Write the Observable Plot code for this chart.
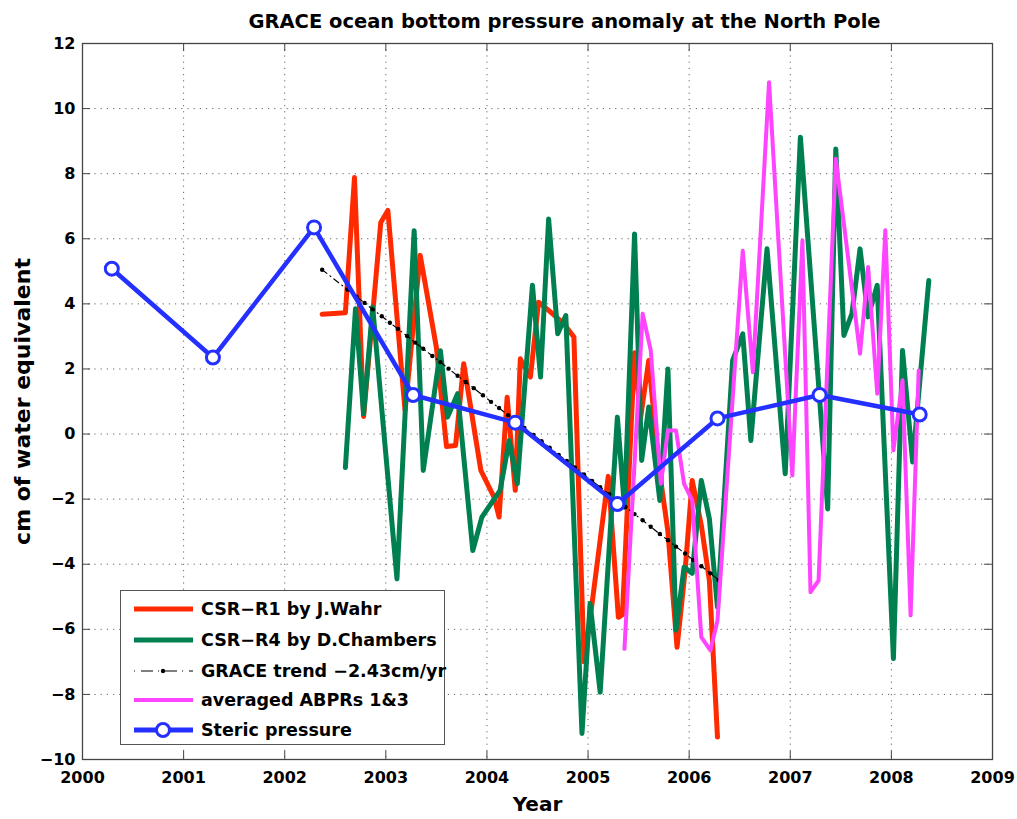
<!DOCTYPE html>
<html><head><meta charset="utf-8">
<script src="https://cdn.jsdelivr.net/npm/d3@7"></script>
<script src="https://cdn.jsdelivr.net/npm/@observablehq/plot@0.6"></script>
<style>
body{margin:0;background:#fff;}
#wrap{position:relative;width:1017px;height:819px;}
#legend{position:absolute;left:120px;top:590px;width:325px;height:155px;border:1px solid #555;background:#fff;box-sizing:border-box;font-family:"DejaVu Sans",sans-serif;font-weight:bold;font-size:17.5px;color:#000;}
.row{position:absolute;left:0;height:30px;width:320px;}
.row svg{position:absolute;left:12px;top:0;}
.row span{position:absolute;left:80px;top:0;line-height:30px;white-space:nowrap;}
</style></head><body><div id="wrap"><div id="legend"></div></div>
<script>
const titleText = "GRACE ocean bottom pressure anomaly at the North Pole";
const xLabel = "Year";
const yLabel = "cm of water equivalent";
const xTicks = [2000, 2001, 2002, 2003, 2004, 2005, 2006, 2007, 2008, 2009];
const yTicks = [-10, -8, -6, -4, -2, 0, 2, 4, 6, 8, 10, 12];

const seriesNames = ["CSR\u2212R1 by J.Wahr", "CSR\u2212R4 by D.Chambers", "GRACE trend \u22122.43cm/yr", "averaged ABPRs 1&3", "Steric pressure"];

const redYears = [2002.37, 2002.60, 2002.69, 2002.78, 2002.95, 2003.02, 2003.19, 2003.34, 2003.50, 2003.60, 2003.69, 2003.77, 2003.94, 2004.07, 2004.12, 2004.20, 2004.28, 2004.33, 2004.43, 2004.51, 2004.61, 2004.76, 2004.86, 2004.96, 2005.04, 2005.20, 2005.30, 2005.34, 2005.46, 2005.52, 2005.60, 2005.70, 2005.79, 2005.88, 2005.96, 2006.03, 2006.12, 2006.20, 2006.28];
const redValues = [3.68, 3.73, 7.88, 0.54, 6.50, 6.87, 0.72, 5.49, 2.66, -0.38, -0.35, 2.16, -1.12, -1.94, -2.55, 1.13, -1.73, 2.31, 1.75, 4.05, 3.80, 3.39, 2.98, -7.0, -5.2, -1.3, -5.63, -5.55, 2.5, 0.5, 2.26, -1.0, -3.0, -6.55, -4.2, -1.43, -2.8, -4.5, -9.31];

const greenYears = [2002.60, 2002.70, 2002.78, 2002.87, 2003.11, 2003.28, 2003.37, 2003.54, 2003.61, 2003.71, 2003.86, 2003.95, 2004.13, 2004.22, 2004.30, 2004.45, 2004.53, 2004.61, 2004.70, 2004.78, 2004.94, 2005.02, 2005.12, 2005.29, 2005.36, 2005.46, 2005.53, 2005.60, 2005.71, 2005.79, 2005.87, 2005.95, 2006.03, 2006.12, 2006.20, 2006.28, 2006.43, 2006.53, 2006.61, 2006.77, 2006.95, 2007.10, 2007.37, 2007.45, 2007.53, 2007.61, 2007.69, 2007.77, 2007.86, 2008.02, 2008.11, 2008.21, 2008.37];
const greenValues = [-1.03, 3.85, 0.62, 3.90, -4.45, 6.25, -1.12, 2.56, 0.52, 1.24, -3.58, -2.55, -1.73, -0.20, -1.53, 4.57, 1.75, 6.61, 3.08, 3.64, -9.20, -5.21, -7.93, 0.52, -2.25, 6.15, -0.81, 0.83, -2.04, 2.00, -6.03, -4.09, -4.28, -1.43, -2.60, -5.32, 2.26, 3.08, -0.20, 5.69, -1.22, 9.12, -2.30, 8.76, 3.03, 3.70, 5.69, 3.60, 4.57, -6.90, 2.57, -0.86, 4.72];

const trendYears = [2002.37, 2002.62, 2002.71, 2002.79, 2002.87, 2002.96, 2003.04, 2003.12, 2003.21, 2003.29, 2003.37, 2003.46, 2003.54, 2003.62, 2003.71, 2003.79, 2003.87, 2003.96, 2004.04, 2004.12, 2004.21, 2004.29, 2004.37, 2004.46, 2004.54, 2004.62, 2004.71, 2004.79, 2004.87, 2004.96, 2005.04, 2005.12, 2005.21, 2005.29, 2005.37, 2005.46, 2005.54, 2005.62, 2005.71, 2005.79, 2005.87, 2005.96, 2006.04, 2006.12, 2006.21, 2006.29];
const trendValues = [5.05, 4.44, 4.22, 4.03, 3.83, 3.62, 3.42, 3.23, 3.01, 2.81, 2.62, 2.40, 2.21, 2.01, 1.79, 1.60, 1.41, 1.19, 0.99, 0.80, 0.58, 0.38, 0.19, -0.03, -0.22, -0.42, -0.64, -0.83, -1.03, -1.24, -1.44, -1.63, -1.85, -2.05, -2.24, -2.46, -2.65, -2.85, -3.07, -3.26, -3.46, -3.67, -3.87, -4.06, -4.28, -4.48];

const pinkYears = [2005.36, 2005.54, 2005.62, 2005.72, 2005.79, 2005.87, 2005.95, 2006.03, 2006.12, 2006.21, 2006.28, 2006.53, 2006.63, 2006.79, 2007.02, 2007.12, 2007.20, 2007.28, 2007.45, 2007.69, 2007.77, 2007.86, 2007.94, 2008.02, 2008.11, 2008.19, 2008.27];
const pinkValues = [-6.60, 3.70, 2.57, -1.53, 0.11, 0.11, -1.53, -2.04, -6.24, -6.65, -5.73, 5.63, 1.90, 10.81, -1.27, 5.95, -4.86, -4.50, 8.46, 2.47, 5.13, 1.24, 6.26, -0.50, 1.65, -5.57, 1.95];

const stericYears = [2000.29, 2001.29, 2002.29, 2003.27, 2004.28, 2005.29, 2006.28, 2007.29, 2008.28];
const stericValues = [5.08, 2.35, 6.35, 1.20, 0.35, -2.15, 0.48, 1.20, 0.60];

const colors = {red: "#ff2a00", green: "#008050", black: "#000", pink: "#ff44ff", blue: "#2430ff"};

const rows = (ts, vs) => ts.map((t, i) => ({t, v: vs[i]}));
const red = rows(redYears, redValues);
const green = rows(greenYears, greenValues);
const trend = rows(trendYears, trendValues);
const pink = rows(pinkYears, pinkValues);
const steric = rows(stericYears, stericValues);

const font = "DejaVu Sans, sans-serif";
const chart = Plot.plot({
  width: 1017, height: 819,
  marginLeft: 82, marginRight: 25, marginTop: 43, marginBottom: 60,
  x: {domain: [2000, 2009], label: null},
  y: {domain: [-10, 12], label: null},
  style: {fontFamily: font, fontWeight: "bold", fontSize: "16px", color: "#000", background: "#fff", overflow: "visible"},
  marks: [
    Plot.gridX(xTicks, {stroke: "#666", strokeOpacity: 1, strokeWidth: 1, strokeDasharray: "1.2,5"}),
    Plot.gridY(yTicks, {stroke: "#666", strokeOpacity: 1, strokeWidth: 1, strokeDasharray: "1.2,5"}),
    Plot.ruleX(xTicks, {x: d => d, y1: -10, y2: -9.75, stroke: "#444"}),
    Plot.ruleX(xTicks, {x: d => d, y1: 12, y2: 11.75, stroke: "#444"}),
    Plot.ruleY(yTicks, {y: d => d, x1: 2000, x2: 2000.08, stroke: "#444"}),
    Plot.ruleY(yTicks, {y: d => d, x1: 2009, x2: 2008.92, stroke: "#444"}),
    Plot.axisX(xTicks, {tickSize: 0, tickPadding: 12, tickFormat: d => String(d), label: null, fontSize: 16, fontWeight: "bold"}),
    Plot.axisY(yTicks, {tickSize: 0, tickPadding: 7, label: null, fontSize: 16, fontWeight: "bold"}),
    Plot.line(red, {x: "t", y: "v", stroke: colors.red, strokeWidth: 5}),
    Plot.line(green, {x: "t", y: "v", stroke: colors.green, strokeWidth: 5}),
    Plot.line(trend, {x: "t", y: "v", stroke: colors.black, strokeWidth: 1.2, strokeDasharray: "6,4,1,4"}),
    Plot.dot(trend, {x: "t", y: "v", r: 2.2, fill: colors.black}),
    Plot.line(pink, {x: "t", y: "v", stroke: colors.pink, strokeWidth: 4}),
    Plot.line(steric, {x: "t", y: "v", stroke: colors.blue, strokeWidth: 4.5}),
    Plot.dot(steric, {x: "t", y: "v", r: 6.5, stroke: colors.blue, strokeWidth: 3, fill: "#fff"}),
    Plot.frame({stroke: "#444", strokeWidth: 1.3}),
    Plot.text([titleText], {text: d => d, frameAnchor: "top", dx: 27, dy: -22, fontSize: 19.5, fontWeight: "bold", lineAnchor: "middle"}),
    Plot.text([xLabel], {text: d => d, frameAnchor: "bottom", dy: 45, fontSize: 20, fontWeight: "bold", lineAnchor: "middle"}),
    Plot.text([yLabel], {text: d => d, frameAnchor: "left", dx: -60, rotate: -90, textAnchor: "middle", fontSize: 22, fontWeight: "bold", lineAnchor: "middle"})
  ]
});
document.getElementById("wrap").prepend(chart);

// Legend
const legend = document.getElementById("legend");
const centers = [18, 49, 80, 109, 139];
const swatchColors = [colors.red, colors.green, colors.black, colors.pink, colors.blue];
seriesNames.forEach((name, i) => {
  const row = document.createElement("div");
  row.className = "row";
  row.style.top = (centers[i] - 15) + "px";
  const ns = "http://www.w3.org/2000/svg";
  const svg = document.createElementNS(ns, "svg");
  svg.setAttribute("width", 62); svg.setAttribute("height", 30);
  const line = document.createElementNS(ns, "line");
  line.setAttribute("x1", 1); line.setAttribute("x2", 60);
  line.setAttribute("y1", 15); line.setAttribute("y2", 15);
  line.setAttribute("stroke", swatchColors[i]);
  line.setAttribute("stroke-width", i === 2 ? 1.2 : (i === 3 ? 4 : 5));
  if (i === 2) line.setAttribute("stroke-dasharray", "1,6,12,5,1,6,12,5");
  svg.appendChild(line);
  if (i === 2 || i === 4) {
    const c = document.createElementNS(ns, "circle");
    c.setAttribute("cx", 30); c.setAttribute("cy", 15);
    c.setAttribute("r", i === 2 ? 2.2 : 6.5);
    c.setAttribute("fill", i === 2 ? "#000" : "#fff");
    if (i === 4) { c.setAttribute("stroke", colors.blue); c.setAttribute("stroke-width", 3); }
    svg.appendChild(c);
  }
  row.appendChild(svg);
  const sp = document.createElement("span");
  sp.textContent = name;
  row.appendChild(sp);
  legend.appendChild(row);
});
</script>
</body></html>
